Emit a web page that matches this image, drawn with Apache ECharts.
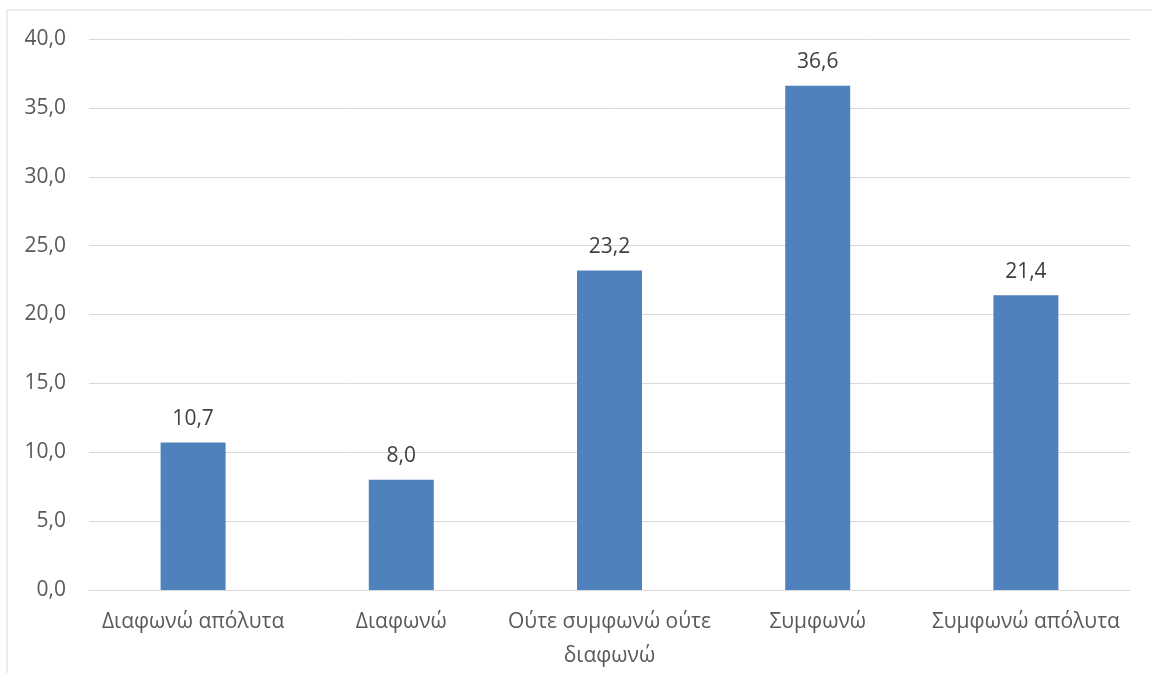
<!DOCTYPE html>
<html>
<head>
<meta charset="utf-8">
<script src="https://cdn.jsdelivr.net/npm/echarts@6/dist/echarts.min.js"></script>
<style>
  html, body { margin: 0; padding: 0; background: #fff; }
  #chart { width: 1152px; height: 673px; }
</style>
</head>
<body>
<div id="chart"></div>
<script>
// Response categories and percentages
const categories = ['Διαφωνώ απόλυτα', 'Διαφωνώ', 'Ούτε συμφωνώ ούτε\nδιαφωνώ', 'Συμφωνώ', 'Συμφωνώ απόλυτα'];
const values = [10.7, 8.0, 23.2, 36.6, 21.4];
const yTicks = { min: 0, max: 40, interval: 5 };

const fmt = v => v.toFixed(1).replace('.', ',');
const textColor = '#595959';
const fontFamily = '"Open Sans", "Noto Sans", sans-serif';

const chart = echarts.init(document.getElementById('chart'));
chart.setOption({
  animation: false,
  backgroundColor: '#ffffff',
  graphic: [{
    type: 'rect',
    shape: { x: 7, y: 10, width: 1160, height: 700 },
    style: { fill: 'none', stroke: '#d9d9d9', lineWidth: 1 },
    silent: true
  }],
  grid: { left: 89, right: 22, top: 39, bottom: 82 },
  xAxis: {
    type: 'category',
    data: categories,
    axisLine: { show: true, lineStyle: { color: '#d9d9d9', width: 1 } },
    axisTick: { show: false },
    axisLabel: {
      color: textColor, fontSize: 21, fontFamily, margin: 15, lineHeight: 34, interval: 0
    }
  },
  yAxis: {
    type: 'value',
    min: yTicks.min, max: yTicks.max, interval: yTicks.interval,
    axisLine: { show: false },
    axisTick: { show: false },
    splitLine: { lineStyle: { color: '#d9d9d9', width: 1 } },
    axisLabel: { color: textColor, fontSize: 21, fontFamily, margin: 23, formatter: fmt }
  },
  series: [{
    type: 'bar',
    data: values,
    barWidth: 65,
    itemStyle: { color: '#4f81bd' },
    label: {
      show: true, position: 'top', distance: 13,
      color: '#404040', fontSize: 21, fontFamily,
      formatter: p => fmt(p.value)
    }
  }]
});
</script>
</body>
</html>
